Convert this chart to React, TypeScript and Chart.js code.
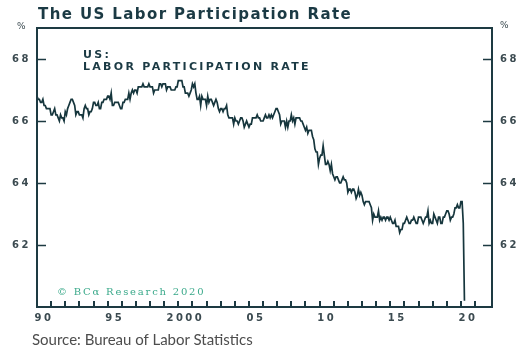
import React, { useEffect, useRef } from "react";
import { Chart, registerables } from "chart.js";

Chart.register(...registerables);

const startYear = 1990;

// US labor force participation rate, monthly (%)
const rates1990s = [
  66.8, 66.7, 66.7, 66.6, 66.6, 66.7, 66.5, 66.5, 66.4, 66.4, 66.4, 66.4,
  66.2, 66.2, 66.3, 66.4, 66.2, 66.2, 66.1, 66.0, 66.2, 66.1, 66.1, 66.0,
  66.3, 66.2, 66.4, 66.5, 66.6, 66.7, 66.7, 66.6, 66.5, 66.2, 66.3, 66.3,
  66.2, 66.2, 66.2, 66.1, 66.4, 66.5, 66.4, 66.4, 66.2, 66.3, 66.3, 66.4,
  66.6, 66.6, 66.5, 66.5, 66.6, 66.4, 66.4, 66.6, 66.6, 66.7, 66.7, 66.7,
  66.8, 66.8, 66.7, 66.9, 66.5, 66.5, 66.6, 66.6, 66.6, 66.6, 66.5, 66.4,
  66.4, 66.6, 66.6, 66.7, 66.7, 66.7, 66.9, 66.7, 66.9, 67.0, 66.9, 67.0,
  67.0, 66.9, 67.1, 67.1, 67.1, 67.1, 67.2, 67.1, 67.1, 67.1, 67.1, 67.2,
  67.1, 67.1, 67.1, 66.9, 67.0, 67.0, 67.0, 67.0, 67.2, 67.2, 67.1, 67.2,
  67.2, 67.2, 67.0, 67.1, 67.1, 67.1, 67.0, 67.0, 67.0, 67.0, 67.1, 67.1,
];
const rates2000s = [
  67.3, 67.3, 67.3, 67.3, 67.1, 67.1, 66.9, 66.9, 66.9, 66.8, 66.9, 67.0,
  67.2, 67.1, 67.2, 66.9, 66.7, 66.7, 66.8, 66.5, 66.8, 66.7, 66.7, 66.7,
  66.5, 66.8, 66.6, 66.7, 66.7, 66.6, 66.5, 66.6, 66.7, 66.6, 66.4, 66.3,
  66.4, 66.4, 66.3, 66.4, 66.4, 66.5, 66.2, 66.1, 66.1, 66.1, 66.1, 65.9,
  66.1, 66.0, 66.0, 65.9, 66.0, 66.1, 66.1, 66.0, 65.8, 65.9, 66.0, 65.9,
  65.8, 65.9, 65.9, 66.1, 66.1, 66.1, 66.1, 66.2, 66.1, 66.1, 66.0, 66.0,
  66.0, 66.1, 66.2, 66.1, 66.1, 66.2, 66.1, 66.2, 66.1, 66.2, 66.3, 66.4,
  66.4, 66.3, 66.2, 65.9, 66.0, 66.0, 66.0, 65.8, 66.0, 65.8, 66.0, 66.0,
  66.2, 66.0, 66.1, 65.9, 66.1, 66.1, 66.1, 66.1, 66.0, 66.0, 65.9, 65.8,
  65.7, 65.8, 65.6, 65.7, 65.7, 65.7, 65.5, 65.4, 65.1, 65.0, 65.0, 64.6,
];
const rates2010s = [
  64.8, 64.9, 64.9, 65.2, 64.9, 64.6, 64.6, 64.7, 64.6, 64.4, 64.6, 64.3,
  64.2, 64.1, 64.2, 64.2, 64.1, 64.0, 64.0, 64.1, 64.2, 64.1, 64.1, 64.0,
  63.7, 63.8, 63.8, 63.7, 63.8, 63.8, 63.7, 63.5, 63.6, 63.8, 63.6, 63.7,
  63.6, 63.4, 63.3, 63.4, 63.4, 63.4, 63.4, 63.3, 63.2, 62.8, 63.0, 62.9,
  62.9, 62.9, 63.1, 62.8, 62.9, 62.8, 62.9, 62.9, 62.8, 62.9, 62.9, 62.8,
  62.9, 62.8, 62.7, 62.7, 62.8, 62.6, 62.6, 62.6, 62.4, 62.5, 62.5, 62.7,
  62.7, 62.8, 62.9, 62.8, 62.7, 62.7, 62.8, 62.8, 62.9, 62.8, 62.7, 62.7,
  62.9, 62.9, 62.9, 62.8, 62.7, 62.8, 62.9, 62.9, 63.1, 62.7, 62.8, 62.7,
  62.7, 63.0, 62.9, 62.8, 62.7, 62.9, 62.9, 62.7, 62.7, 62.9, 62.9, 63.0,
  63.1, 63.1, 63.0, 62.8, 62.9, 62.9, 63.0, 63.2, 63.2, 63.3, 63.2, 63.2,
];
const rates2020 = [63.4, 63.4, 62.7, 60.2];

const yTickValues = [62, 64, 66, 68];
const labelYears = [1990, 1995, 2000, 2005, 2010, 2015, 2020];
const labelTexts = ["90", "95", "2000", "05", "10", "15", "20"];
const tickMarkYears = Array.from({ length: 31 }, (_, i) => 1991 + i);

const X_MIN = 1990;
const X_MAX = 2022.2;
const Y_MIN = 60;
const Y_MAX = 69;

const AXIS_COLOR = "#1d3a42";
const LINE_COLOR = "#16363d";
const LABEL_COLOR = "#3b4a50";
const TITLE_COLOR = "#1b3a44";

const framePlugin = {
  id: "frameTicks",
  beforeDraw(chart: any) {
    chart.ctx.letterSpacing = "2.5px";
  },
  afterDraw(chart: any) {
    const { ctx, chartArea, scales } = chart;
    const { left, right, top, bottom } = chartArea;
    ctx.save();
    ctx.letterSpacing = "0px";
    ctx.strokeStyle = AXIS_COLOR;
    ctx.lineWidth = 2;
    ctx.strokeRect(left, top, right - left, bottom - top);
    ctx.lineWidth = 2;
    tickMarkYears.forEach((yr) => {
      const x = Math.round(scales.x.getPixelForValue(yr));
      ctx.beginPath();
      ctx.moveTo(x, bottom);
      ctx.lineTo(x, bottom - 6);
      ctx.stroke();
    });
    ctx.lineWidth = 1.5;
    yTickValues.forEach((v) => {
      const y = Math.round(scales.y.getPixelForValue(v)) + 0.5;
      ctx.beginPath();
      ctx.moveTo(left, y);
      ctx.lineTo(left + 9, y);
      ctx.moveTo(right - 9, y);
      ctx.lineTo(right, y);
      ctx.stroke();
    });
    ctx.restore();
    ctx.letterSpacing = "0px";
  },
};

export default function App() {
  const canvasRef = useRef<HTMLCanvasElement | null>(null);

  useEffect(() => {
    const all = [...rates1990s, ...rates2000s, ...rates2010s, ...rates2020];
    const points = all.map((v, i) => ({ x: startYear + i / 12, y: v }));
    const tickFont = { family: "'DejaVu Sans'", size: 10, weight: "bold" as const };

    const chart = new Chart(canvasRef.current as HTMLCanvasElement, {
      type: "line",
      data: {
        datasets: [
          {
            data: points,
            borderColor: LINE_COLOR,
            borderWidth: 1.7,
            pointRadius: 0,
            tension: 0,
            fill: false,
          },
        ],
      },
      options: {
        animation: false,
        responsive: false,
        layout: { padding: { top: 28, left: 0, right: 0, bottom: 0 } },
        plugins: { legend: { display: false }, tooltip: { enabled: false }, title: { display: false } },
        scales: {
          x: {
            type: "linear",
            min: X_MIN,
            max: X_MAX,
            afterBuildTicks: (scale: any) => {
              scale.ticks = labelYears.map((y) => ({ value: y + 0.5 }));
            },
            afterFit: (scale: any) => {
              scale.height = 49;
            },
            ticks: {
              autoSkip: false,
              maxRotation: 0,
              padding: 5,
              color: LABEL_COLOR,
              font: tickFont,
              callback: (v: any) => {
                const idx = labelYears.indexOf(Math.round(Number(v) - 0.5));
                return idx >= 0 ? labelTexts[idx] : "";
              },
            },
            grid: { display: false, drawTicks: false },
            border: { display: false },
          },
          y: {
            type: "linear",
            position: "left",
            min: Y_MIN,
            max: Y_MAX,
            afterBuildTicks: (scale: any) => {
              scale.ticks = yTickValues.map((v) => ({ value: v }));
            },
            afterFit: (scale: any) => {
              scale.width = 37;
            },
            ticks: { padding: 6, color: LABEL_COLOR, font: tickFont },
            grid: { display: false, drawTicks: false },
            border: { display: false },
          },
          y2: {
            type: "linear",
            position: "right",
            min: Y_MIN,
            max: Y_MAX,
            afterBuildTicks: (scale: any) => {
              scale.ticks = yTickValues.map((v) => ({ value: v }));
            },
            afterFit: (scale: any) => {
              scale.width = 40;
            },
            ticks: { padding: 8, color: LABEL_COLOR, font: tickFont },
            grid: { display: false, drawTicks: false },
            border: { display: false },
          },
        },
      },
      plugins: [framePlugin],
    } as any);

    return () => chart.destroy();
  }, []);

  const abs = (style: React.CSSProperties): React.CSSProperties => ({
    position: "absolute",
    whiteSpace: "nowrap",
    margin: 0,
    ...style,
  });

  return (
    <div style={{ position: "fixed", left: 0, top: 0, width: 532, height: 356, background: "#fff" }}>
      <canvas ref={canvasRef} width={532} height={356} style={{ position: "absolute", left: 0, top: 0, width: 532, height: 356 }} />
      <div
        style={abs({
          left: 38,
          top: 6,
          fontFamily: "'DejaVu Sans'",
          fontWeight: "bold",
          fontSize: 15,
          lineHeight: "17px",
          letterSpacing: "1.4px",
          color: TITLE_COLOR,
        })}
      >
        The US Labor Participation Rate
      </div>
      <div style={abs({ left: 17, top: 21, fontFamily: "'DejaVu Sans'", fontSize: 9, lineHeight: "10px", color: LABEL_COLOR })}>%</div>
      <div style={abs({ left: 500, top: 20, fontFamily: "'DejaVu Sans'", fontSize: 9, lineHeight: "10px", color: LABEL_COLOR })}>%</div>
      <div
        style={abs({
          left: 83,
          top: 49,
          fontFamily: "'DejaVu Sans'",
          fontWeight: "bold",
          fontSize: 11,
          lineHeight: "12px",
          letterSpacing: "2.3px",
          color: TITLE_COLOR,
        })}
      >
        US:
        <br />
        LABOR PARTICIPATION RATE
      </div>
      <div
        style={abs({
          left: 57,
          top: 286,
          fontFamily: "'DejaVu Serif'",
          fontSize: 10,
          lineHeight: "12px",
          letterSpacing: "1.8px",
          color: "#3aa98a",
        })}
      >
        © BCα Research 2020
      </div>
      <div
        style={abs({
          left: 32,
          top: 330,
          fontFamily: "Lato",
          fontSize: 15,
          lineHeight: "18px",
          color: "#4d4d4d",
        })}
      >
        Source: Bureau of Labor Statistics
      </div>
    </div>
  );
}
